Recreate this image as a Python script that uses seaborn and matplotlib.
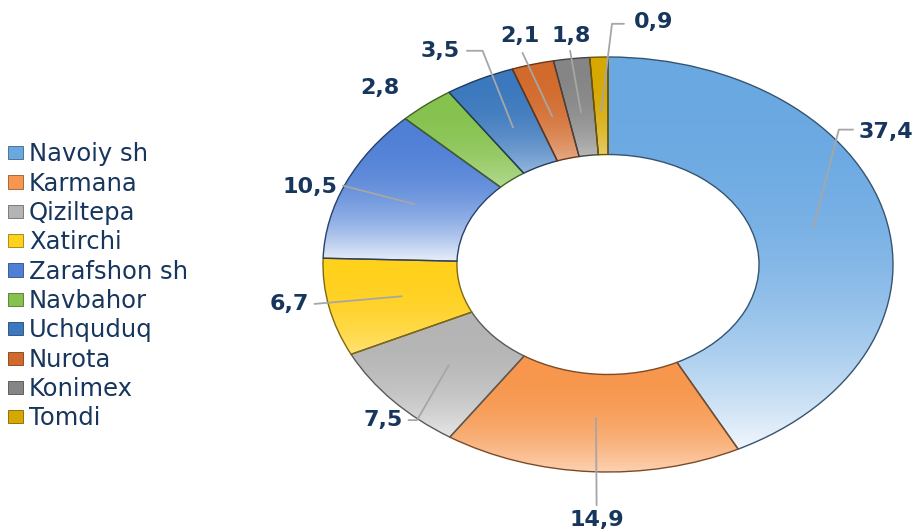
import numpy as np
import matplotlib
matplotlib.use("Agg")
import matplotlib.pyplot as plt
import seaborn as sns
from matplotlib.patches import Patch
from matplotlib.colors import to_rgb

sns.set_theme(style="white")
plt.rcParams['font.family'] = ['DejaVu Sans']

# ---------------- data ----------------
categories = ["Navoiy sh", "Karmana", "Qiziltepa", "Xatirchi", "Zarafshon sh",
              "Navbahor", "Uchquduq", "Nurota", "Konimex", "Tomdi"]
values = [37.4, 14.9, 7.5, 6.7, 10.5, 2.8, 3.5, 2.1, 1.8, 0.9]
value_labels = ["37,4", "14,9", "7,5", "6,7", "10,5", "2,8", "3,5", "2,1", "1,8", "0,9"]
colors = ["#6aa8e2", "#f7964c", "#b4b4b4", "#ffd01c", "#5080d6",
          "#86c24e", "#3b78bd", "#d26a2c", "#858585", "#d6a800"]

# label layout: (text x, text y, ha, line elbow, line end) in axes data units
label_layout = [
    (0.88, 0.64, "left", (0.81, 0.65), (0.86, 0.65)),
    (-0.04, -1.23, "center", None, (-0.04, -1.16)),
    (-0.72, -0.75, "right", (-0.67, -0.75), (-0.70, -0.75)),
    (-1.05, -0.19, "right", None, (-1.03, -0.19)),
    (-0.95, 0.375, "right", None, (-0.93, 0.38)),
    (-0.80, 0.85, "center", None, None),
    (-0.59, 1.03, "center", (-0.44, 1.03), (-0.495, 1.03)),
    (-0.31, 1.10, "center", None, (-0.30, 1.02)),
    (-0.13, 1.10, "center", None, (-0.133, 1.03)),
    (0.09, 1.17, "left", (0.014, 1.16), (0.056, 1.16)),
]

text_color = "#17365d"

fig = plt.figure(figsize=(9.17, 5.31), dpi=100)
ax = fig.add_axes([323 / 917, (531 - 472) / 531, 570 / 917, 415 / 531])

wedges, _ = ax.pie(values, startangle=90, counterclock=False, radius=1.0,
                   colors=colors,
                   wedgeprops=dict(width=0.47, linewidth=1.0))
ax.set_aspect("auto")
ax.set_xlim(-1, 1)
ax.set_ylim(-1, 1)
ax.axis("off")

for w, col in zip(wedges, colors):
    base = np.array(to_rgb(col))
    edge = base * 0.5
    w.set_facecolor("none")
    w.set_edgecolor(tuple(edge))
    w.set_zorder(3)
    ext = w.get_path().get_extents()
    n = 200
    t = np.linspace(0, 1, n)[:, None]  # 0 = top row, 1 = bottom row (white side)
    strength = 0.9 * min(1.0, ext.height / 0.7) ** 2
    weight = strength * t ** 2.5
    img = np.ones((n, 2, 4))
    img[..., :3] = base[None, None, :] * (1 - weight[..., None]) + weight[..., None]
    im = ax.imshow(img, extent=[ext.x0, ext.x1, ext.y0, ext.y1], origin="upper",
                   aspect="auto", zorder=2, interpolation="bilinear")
    im.set_clip_path(w)

ax.set_aspect("auto")
ax.set_xlim(-1, 1)
ax.set_ylim(-1, 1)

# labels and leader lines
for w, lab, (tx, ty, ha, elbow, end) in zip(wedges, value_labels, label_layout):
    mid = np.deg2rad((w.theta1 + w.theta2) / 2)
    ax.text(tx, ty, lab, ha=ha, va="center", fontsize=16, fontweight="bold",
            color=text_color, clip_on=False, zorder=5)
    if end is None:
        continue
    anchor = (0.74 * np.cos(mid), 0.74 * np.sin(mid))
    pts = [anchor]
    if elbow is not None:
        pts.append(elbow)
    pts.append(end)
    xs, ys = zip(*pts)
    ax.plot(xs, ys, color="#a6a6a6", lw=1.3, clip_on=False, zorder=4)

handles = [Patch(facecolor=c, edgecolor=tuple(np.array(to_rgb(c)) * 0.6), lw=0.6)
           for c in colors]
fig.legend(handles, categories, loc="upper left", bbox_to_anchor=(0.001, 1 - 135 / 531),
           frameon=False, fontsize=17.5, labelcolor=text_color,
           handlelength=0.6, handleheight=0.45, handletextpad=0.25,
           labelspacing=0.22, borderaxespad=0.0, borderpad=0.3)

fig.savefig("out.png", dpi=100)
